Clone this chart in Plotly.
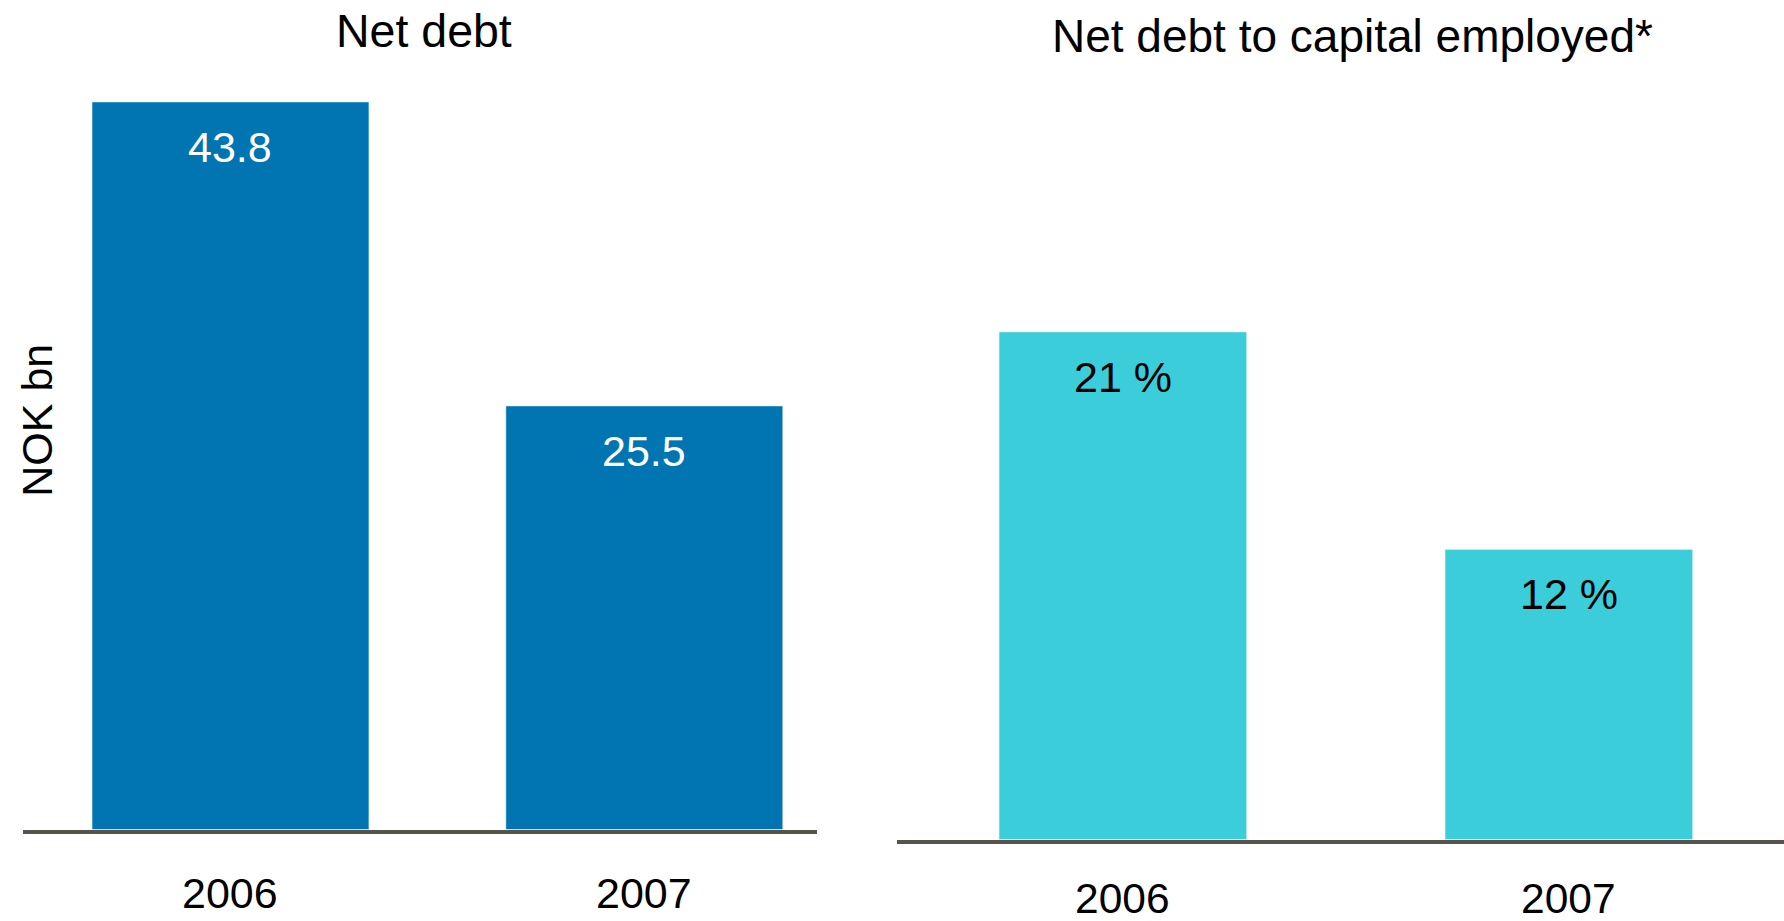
import plotly.graph_objects as go

# ---- data ----
years = ["2006", "2007"]
net_debt = [43.8, 25.5]                 # NOK bn
net_debt_labels = ["43.8", "25.5"]
debt_to_capital = [21, 12]              # %
debt_to_capital_labels = ["21 %", "12 %"]

left_title = "Net debt"
right_title = "Net debt to capital employed*"
y_title = "NOK bn"

FONT = "Liberation Sans, Arial, sans-serif"
C_LEFT = "#0075B1"
C_RIGHT = "#3CCDDB"
C_AXIS = "#58534C"

W, H = 1784, 921

fig = go.Figure()
fig.add_trace(go.Bar(x=years, y=net_debt, marker_color=C_LEFT, width=0.669,
                     xaxis="x", yaxis="y", hoverinfo="x+y"))
fig.add_trace(go.Bar(x=years, y=debt_to_capital, marker_color=C_RIGHT, width=0.555,
                     xaxis="x2", yaxis="y2", hoverinfo="x+y"))

ann = []
# value labels inside bars (category index positions)
for i, (v, t) in enumerate(zip(net_debt, net_debt_labels)):
    ann.append(dict(x=i, y=v, xref="x", yref="y", text=t, showarrow=False,
                    yanchor="middle", yshift=-45,
                    font=dict(family=FONT, size=43, color="white")))
for i, (v, t) in enumerate(zip(debt_to_capital, debt_to_capital_labels)):
    ann.append(dict(x=i, y=v, xref="x2", yref="y2", text=t, showarrow=False,
                    yanchor="middle", yshift=-45,
                    font=dict(family=FONT, size=43, color="black")))
# category labels below axes
for i, yr in enumerate(years):
    ann.append(dict(x=i, y=0, xref="x", yref="y", text=yr, showarrow=False,
                    yanchor="middle", yshift=-63,
                    font=dict(family=FONT, size=43, color="black")))
    ann.append(dict(x=i, y=0, xref="x2", yref="y2", text=yr, showarrow=False,
                    yanchor="bottom", yshift=-83, borderpad=0,
                    font=dict(family=FONT, size=42.5, color="black")))
# titles
ann.append(dict(x=424 / W, y=1 - 30.5 / H, xref="paper", yref="paper",
                text=left_title, showarrow=False, xanchor="center", yanchor="middle",
                font=dict(family=FONT, size=46.5, color="black")))
ann.append(dict(x=1352.5 / W, y=1 - 36 / H, xref="paper", yref="paper",
                text=right_title, showarrow=False, xanchor="center", yanchor="middle",
                font=dict(family=FONT, size=46, color="black")))
ann.append(dict(x=36.7 / W, y=1 - 420 / H, xref="paper", yref="paper",
                text=y_title, showarrow=False, textangle=-90,
                xanchor="center", yanchor="middle",
                font=dict(family=FONT, size=43, color="black")))

fig.update_layout(
    width=W, height=H,
    margin=dict(l=0, r=0, t=0, b=0),
    paper_bgcolor="white", plot_bgcolor="white",
    showlegend=False,
    annotations=ann,
    xaxis=dict(domain=[23 / W, 817 / W], type="category", range=[-0.5014, 1.4173],
               showticklabels=False, ticks="", showgrid=False, zeroline=False,
               showline=True, linecolor=C_AXIS, linewidth=3.5, fixedrange=True),
    yaxis=dict(domain=[1 - 829.5 / H, 1 - 60 / H], range=[0, 46.33],
               visible=False, showgrid=False, zeroline=False, fixedrange=True),
    xaxis2=dict(domain=[897 / W, 1], type="category", range=[-0.5064, 1.4824],
                anchor="y2",
                showticklabels=False, ticks="", showgrid=False, zeroline=False,
                showline=True, linecolor=C_AXIS, linewidth=3.5, fixedrange=True),
    yaxis2=dict(domain=[1 - 839.5 / H, 1 - 60 / H], range=[0, 32.25], anchor="x2",
                visible=False, showgrid=False, zeroline=False, fixedrange=True),
)

fig.write_html("out.html", config={"displayModeBar": False},
               post_script="document.body.style.margin='0';document.body.style.overflow='hidden';")
